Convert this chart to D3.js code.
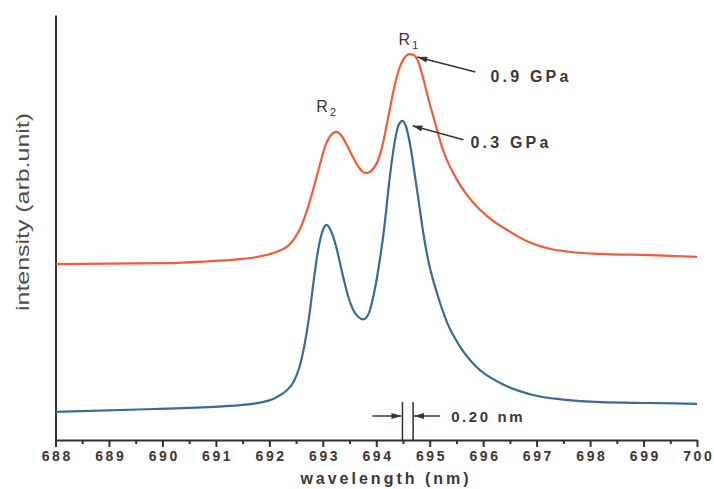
<!DOCTYPE html>
<html>
<head>
<meta charset="utf-8">
<script src="https://cdn.jsdelivr.net/npm/d3@7"></script>
<style>
  html, body { margin: 0; padding: 0; background: #fff; }
  svg { display: block; }
</style>
</head>
<body>
<svg id="chart" width="714" height="489"></svg>
<script>
// Ruby R-line luminescence at two pressures (intensity in arbitrary units)
const xTicks = [688, 689, 690, 691, 692, 693, 694, 695, 696, 697, 698, 699, 700];
const xMinorTicks = [688.5, 689.5, 690.5, 691.5, 692.5, 693.5, 694.5, 695.5, 696.5, 697.5, 698.5, 699.5];

// 0.9 GPa spectrum
const highWavelength = [688.00, 689.00, 690.06, 690.80, 691.40, 691.74, 692.00, 692.20, 692.36, 692.48, 692.60,
  692.72, 692.84, 692.95, 693.05, 693.15, 693.25, 693.35, 693.45, 693.55, 693.65, 693.75, 693.83, 693.92,
  694.02, 694.10, 694.21, 694.32, 694.42, 694.52, 694.62, 694.70, 694.78, 694.88, 694.98, 695.07, 695.25,
  695.51, 695.70, 695.89, 696.10, 696.45, 696.80, 697.25, 697.60, 698.19, 699.12, 700.00];
const highIntensity = [41.4, 41.5, 41.6, 42.0, 42.5, 43.0, 43.7, 44.6, 45.8, 47.6, 50.4,
  54.6, 59.8, 65.0, 69.3, 71.7, 72.5, 71.6, 69.4, 66.9, 64.6, 63.1, 62.8, 63.5,
  65.4, 68.5, 75.0, 82.0, 87.0, 89.8, 90.8, 90.6, 89.2, 85.0, 80.0, 76.0, 68.2,
  61.2, 57.6, 54.8, 52.4, 49.4, 46.9, 45.0, 44.3, 43.8, 43.5, 43.1];

// 0.3 GPa spectrum
const lowWavelength = [688.00, 689.87, 691.12, 691.74, 692.11, 692.30, 692.45, 692.56, 692.66, 692.75, 692.83,
  692.91, 693.00, 693.07, 693.15, 693.25, 693.36, 693.47, 693.57, 693.66, 693.76, 693.86, 693.95, 694.05,
  694.15, 694.25, 694.35, 694.42, 694.49, 694.56, 694.64, 694.72, 694.80, 694.88, 694.97, 695.14, 695.33,
  695.57, 695.89, 696.32, 696.93, 697.50, 698.19, 699.10, 700.00];
const lowIntensity = [6.6, 7.3, 7.9, 8.6, 9.9, 11.4, 13.6, 17.0, 22.5, 29.5, 37.5,
  44.5, 49.3, 50.6, 49.3, 45.5, 39.5, 34.0, 30.6, 29.0, 28.4, 29.8, 34.0, 41.0,
  50.0, 61.5, 70.5, 74.2, 75.1, 73.6, 69.0, 62.5, 55.6, 48.7, 42.4, 34.4, 27.5,
  21.9, 17.0, 13.4, 10.6, 9.5, 8.9, 8.7, 8.5];

const seriesNames = ["0.9 GPa", "0.3 GPa"];
const seriesColors = ["#f05c3b", "#3a6a94"];
const peakShift = 0.20;           // R1 shift between the two spectra, nm
const shiftLabel = "0.20 nm";
const xTitle = "wavelength (nm)";
const yTitle = "intensity (arb.unit)";

const ink = "#3a2d2b";
const textInk = "#3f3634";
const textFont = "Liberation Sans, Arial, sans-serif";

const svg = d3.select("#chart");

const x = d3.scaleLinear().domain([688, 700]).range([55.5, 697]);
const y = d3.scaleLinear().domain([0, 100]).range([440, 15]);

// Axes
const xAxis = svg.append("g")
  .attr("transform", `translate(0,${y(0)})`)
  .call(d3.axisBottom(x).tickValues(xTicks).tickSize(7).tickSizeOuter(0).tickPadding(4.5));
xAxis.select(".domain").attr("stroke", ink).attr("stroke-width", 2);
xAxis.selectAll(".tick line").attr("stroke", ink).attr("stroke-width", 2);
xAxis.selectAll(".tick text")
  .attr("fill", textInk)
  .attr("font-family", textFont)
  .attr("font-weight", "bold")
  .attr("font-size", 14)
  .attr("letter-spacing", 2.6)
  .attr("dx", 1.3);

const xMinor = svg.append("g")
  .attr("transform", `translate(0,${y(0)})`)
  .call(d3.axisBottom(x).tickValues(xMinorTicks).tickSize(4).tickSizeOuter(0).tickFormat(""));
xMinor.select(".domain").remove();
xMinor.selectAll(".tick line").attr("stroke", ink).attr("stroke-width", 2);

const yAxis = svg.append("g")
  .attr("transform", `translate(${x(688)},0)`)
  .call(d3.axisLeft(y).tickValues([]).tickSizeOuter(0));
yAxis.select(".domain").attr("stroke", ink).attr("stroke-width", 2);

// Axis titles
svg.append("text")
  .attr("x", 386).attr("y", 484)
  .attr("text-anchor", "middle")
  .attr("fill", textInk)
  .attr("font-family", textFont)
  .attr("font-weight", "bold")
  .attr("font-size", 16)
  .attr("letter-spacing", 3)
  .text(xTitle);

svg.append("text")
  .attr("transform", "translate(29,212) rotate(-90)")
  .attr("text-anchor", "middle")
  .attr("fill", "#524c4a")
  .attr("font-family", textFont)
  .attr("font-size", 18)
  .attr("textLength", 198)
  .attr("lengthAdjust", "spacingAndGlyphs")
  .text(yTitle);

// Spectra
const line = d3.line()
  .x(d => x(d[0]))
  .y(d => y(d[1]))
  .curve(d3.curveMonotoneX);

const highData = highWavelength.map((w, i) => [w, highIntensity[i]]);
const lowData = lowWavelength.map((w, i) => [w, lowIntensity[i]]);

svg.append("path").datum(highData)
  .attr("d", line).attr("fill", "none")
  .attr("stroke", seriesColors[0]).attr("stroke-width", 2.2)
  .attr("stroke-linejoin", "round");
svg.append("path").datum(lowData)
  .attr("d", line).attr("fill", "none")
  .attr("stroke", seriesColors[1]).attr("stroke-width", 2.2)
  .attr("stroke-linejoin", "round");

// Arrowhead marker
const defs = svg.append("defs");
defs.append("marker")
  .attr("id", "head")
  .attr("viewBox", "0 0 10 6")
  .attr("refX", 10).attr("refY", 3)
  .attr("markerWidth", 10).attr("markerHeight", 6)
  .attr("markerUnits", "userSpaceOnUse")
  .attr("orient", "auto")
  .append("path").attr("d", "M0,0 L10,3 L0,6 Z").attr("fill", "#3a3332");

// Peak positions
const highR1 = highData.reduce((a, b) => (b[1] > a[1] ? b : a));
const highR2 = highData.filter(d => d[0] < 693.6).reduce((a, b) => (b[1] > a[1] ? b : a));
const lowR1 = lowData.reduce((a, b) => (b[1] > a[1] ? b : a));

// R1 / R2 peak labels
function peakLabel(px, py, sub) {
  const t = svg.append("text")
    .attr("x", px).attr("y", py)
    .attr("fill", textInk)
    .attr("font-family", textFont)
    .attr("font-size", 16);
  t.append("tspan").text("R");
  t.append("tspan").attr("dx", 2).attr("dy", 4).attr("font-size", 11.5).text(sub);
}
peakLabel(x(highR1[0]) - 11, y(highR1[1]) - 9, "1");
peakLabel(x(highR2[0]) - 20, y(highR2[1]) - 20, "2");

// Pressure annotations
function pressureNote(peak, tip, tail, textPos, label) {
  const px = x(peak[0]), py = y(peak[1]);
  svg.append("line")
    .attr("x1", px + tail[0]).attr("y1", py + tail[1])
    .attr("x2", px + tip[0]).attr("y2", py + tip[1])
    .attr("stroke", "#3a3332").attr("stroke-width", 1.5)
    .attr("marker-end", "url(#head)");
  svg.append("text")
    .attr("x", px + textPos[0]).attr("y", py + textPos[1])
    .attr("fill", textInk)
    .attr("font-family", textFont)
    .attr("font-weight", "bold")
    .attr("font-size", 16)
    .attr("letter-spacing", 3.2)
    .text(label);
}
pressureNote(highR1, [8, 3], [66, 18], [81, 28], seriesNames[0]);
pressureNote(lowR1, [10, 5], [61, 19], [68, 27], seriesNames[1]);

// R1 shift marker between the two spectra
const sx1 = x(lowR1[0]);
const sx2 = x(lowR1[0] + peakShift);
const markTop = y(0) - 38;
const markY = y(0) - 24;
[sx1, sx2].forEach(sx => {
  svg.append("line")
    .attr("x1", sx).attr("x2", sx)
    .attr("y1", markTop).attr("y2", y(0))
    .attr("stroke", ink).attr("stroke-width", 1.5);
});
svg.append("line")
  .attr("x1", sx1 - 30).attr("x2", sx1 - 1)
  .attr("y1", markY).attr("y2", markY)
  .attr("stroke", "#3a3332").attr("stroke-width", 1.5)
  .attr("marker-end", "url(#head)");
svg.append("line")
  .attr("x1", sx2 + 27).attr("x2", sx2 + 1)
  .attr("y1", markY).attr("y2", markY)
  .attr("stroke", "#3a3332").attr("stroke-width", 1.5)
  .attr("marker-end", "url(#head)");
svg.append("text")
  .attr("x", sx2 + 38).attr("y", markY + 5.5)
  .attr("fill", textInk)
  .attr("font-family", textFont)
  .attr("font-weight", "bold")
  .attr("font-size", 15)
  .attr("letter-spacing", 2.6)
  .text(shiftLabel);
</script>
</body>
</html>
